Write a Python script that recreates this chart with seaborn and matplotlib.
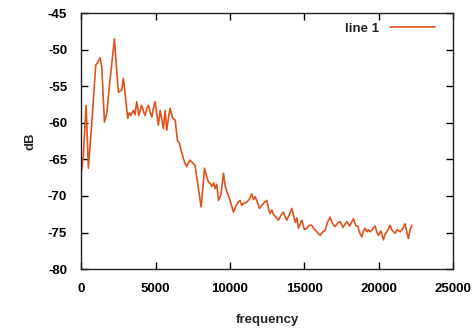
import pandas as pd
import seaborn as sns
import matplotlib.pyplot as plt

# spectrum (10 points per row)
freq = [0, 150, 336, 490, 720, 985, 1100, 1277, 1390, 1570,
        1725, 1900, 2080, 2240, 2380, 2510, 2730, 2845, 3000, 3135,
        3240, 3340, 3515, 3620, 3740, 3875, 3980, 4075, 4200, 4300,
        4420, 4525, 4650, 4750, 4860, 4975, 5080, 5195, 5310, 5420,
        5530, 5645, 5760, 5870, 5980, 6160, 6320, 6470, 6605, 6750,
        6875, 7000, 7100, 7220, 7325, 7505, 7660, 7850, 8065, 8180,
        8290, 8420, 8557, 8680, 8780, 8900, 9005, 9120, 9230, 9400,
        9565, 9680, 9790, 10000, 10120, 10240, 10450, 10580, 10685, 10800,
        10910, 11080, 11245, 11360, 11470, 11580, 11695, 11840, 11985, 12140,
        12300, 12475, 12600, 12700, 12820, 12950, 13100, 13260, 13420, 13595,
        13700, 13820, 14000, 14160, 14300, 14400, 14500, 14605, 14720, 14830,
        15000, 15170, 15330, 15500, 15650, 15800, 15930, 16060, 16230, 16400,
        16560, 16735, 16900, 17070, 17250, 17405, 17600, 17720, 17855, 18050,
        18180, 18300, 18450, 18600, 18730, 18860, 18970, 19085, 19200, 19300,
        19420, 19535, 19650, 19750, 19870, 19980, 20150, 20315, 20430, 20550,
        20765, 20900, 21100, 21250, 21440, 21600, 21775, 21880, 21995, 22100,
        22220]
db = [-67.0, -64.5, -57.6, -66.2, -60.0, -52.1, -51.8, -51.1, -52.3, -59.9,
      -58.7, -55.0, -51.5, -48.5, -52.5, -55.8, -55.5, -53.9, -56.9, -59.4,
      -58.6, -59.0, -58.3, -58.9, -57.1, -59.0, -58.2, -57.6, -58.5, -59.0,
      -58.0, -57.6, -58.6, -59.2, -58.0, -57.1, -58.8, -60.3, -58.3, -59.5,
      -60.8, -58.3, -61.0, -59.3, -58.0, -59.4, -59.6, -62.4, -62.8, -64.0,
      -64.9, -65.6, -66.0, -65.4, -65.1, -65.5, -65.8, -68.5, -71.5, -69.0,
      -66.2, -67.2, -68.1, -68.3, -68.7, -68.2, -69.0, -68.4, -70.6, -69.8,
      -66.9, -68.6, -69.4, -70.5, -71.4, -72.2, -71.2, -70.8, -70.6, -71.3,
      -71.0, -70.9, -70.6, -70.2, -69.7, -70.5, -70.1, -70.8, -71.7, -71.3,
      -70.9, -70.6, -71.8, -72.4, -71.9, -72.6, -72.9, -73.3, -72.7, -72.2,
      -72.8, -73.3, -72.5, -71.7, -72.9, -73.6, -73.0, -74.4, -73.8, -73.3,
      -74.6, -74.4, -74.0, -74.0, -74.5, -74.8, -75.1, -75.4, -74.9, -74.7,
      -73.6, -72.9, -73.8, -74.2, -73.7, -73.5, -74.3, -73.9, -73.5, -74.1,
      -73.6, -73.1, -74.0, -74.2, -75.1, -75.6, -74.8, -74.4, -74.9, -74.6,
      -74.9, -74.7, -74.3, -74.1, -74.9, -75.4, -74.8, -76.0, -75.2, -74.9,
      -74.0, -74.7, -75.1, -74.6, -74.9, -74.5, -73.8, -74.9, -75.8, -74.7,
      -74.0]

df = pd.DataFrame({"frequency": freq, "dB": db, "series": "line 1"})

sns.set_style("ticks")
plt.rcParams['font.family'] = ['Liberation Sans', 'DejaVu Sans']
plt.rcParams['font.weight'] = 'bold'
plt.rcParams['axes.unicode_minus'] = False

fig = plt.figure(figsize=(4.77, 3.29), dpi=100)
ax = fig.add_axes([0.170, 0.182, 0.780, 0.778])
sns.lineplot(data=df, x="frequency", y="dB", hue="series", palette=["#e0521c"],
             linewidth=1.2, ax=ax)

ax.set_xlim(0, 25000)
ax.set_ylim(-80, -45)
ax.set_xticks([0, 5000, 10000, 15000, 20000, 25000])
ax.set_yticks([-80, -75, -70, -65, -60, -55, -50, -45])
ax.tick_params(direction='in', length=5, width=1, top=True, right=True,
               labelsize=9.5, pad=10, colors='black')
for lab in ax.get_xticklabels() + ax.get_yticklabels():
    lab.set_fontweight('bold')
for s in ax.spines.values():
    s.set_visible(True)
    s.set_linewidth(1.0)
    s.set_color('#222222')

ax.set_xlabel("frequency", fontsize=9.5, fontweight='bold', labelpad=14)
ax.set_ylabel("dB", fontsize=9.5, fontweight='bold', labelpad=8)

leg = ax.legend(loc='upper right', frameon=False, markerfirst=False, handlelength=3.4,
                fontsize=9.5, borderaxespad=0.3, bbox_to_anchor=(0.975, 1.0))
for t in leg.get_texts():
    t.set_fontweight('bold')

plt.savefig("out.png", dpi=100)
plt.close()
